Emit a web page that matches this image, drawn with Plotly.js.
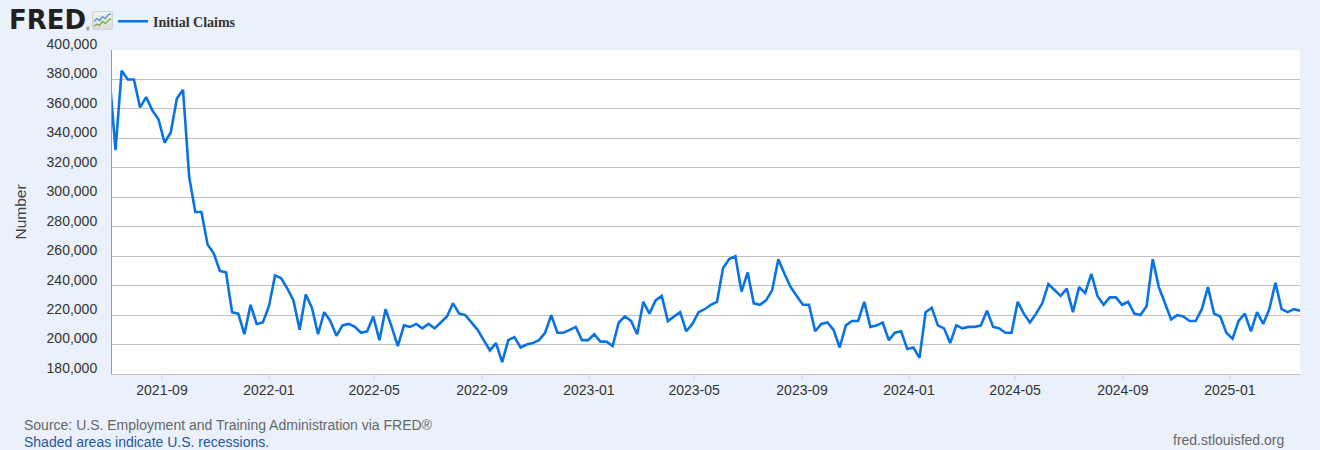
<!DOCTYPE html>
<html>
<head>
<meta charset="utf-8">
<script src="https://cdn.plot.ly/plotly-3.0.1.min.js"></script>
<style>html,body{margin:0;padding:0;background:#eaf1fa;}#chart{width:1320px;height:450px;}</style>
</head>
<body>
<div id="chart"></div>
<script>
// Weekly initial claims, week ending Saturday, first week 2021-07-03
const seriesName = 'Initial Claims';
const firstWeek = '2021-07-03';
const claims = [
  383000,
  332000, 386000, 380000, 380000, 361000, 368000, 359000, 353000, 337000, 344000,
  367000, 373000, 314000, 290000, 290000, 268000, 262000, 250000, 249000, 222000,
  221000, 207000, 227000, 214000, 215000, 226000, 247000, 245000, 238000, 230000,
  210000, 234000, 225000, 207000, 222000, 216000, 206000, 213000, 214000, 212000,
  208000, 209000, 219000, 203000, 224000, 212000, 199000, 213000, 212000, 214000,
  211000, 214000, 211000, 215000, 219000, 228000, 221000, 220000, 215000, 210000,
  203000, 196000, 201000, 188000, 203000, 205000, 198000, 200000, 201000, 203000,
  208000, 220000, 208000, 208000, 210000, 212000, 203000, 203000, 207000, 202000,
  202000, 199000, 215000, 219000, 216000, 207000, 229000, 221000, 230000, 233000,
  216000, 219000, 222000, 209000, 214000, 222000, 224000, 227000, 229000, 252000,
  258000, 260000, 236000, 249000, 228000, 227000, 230000, 237000, 258000, 248000,
  239000, 233000, 227000, 227000, 209000, 214000, 215000, 210000, 198000, 213000,
  216000, 216000, 229000, 212000, 213000, 215000, 203000, 208000, 209000, 197000,
  198000, 191000, 222000, 225000, 213000, 211000, 201000, 213000, 211000, 212000,
  212000, 213000, 223000, 212000, 211000, 208000, 208000, 229000, 221000, 215000,
  221000, 228000, 241000, 237000, 233000, 238000, 222000, 239000, 235000, 248000,
  233000, 227000, 232000, 232000, 227000, 229000, 221000, 220000, 226000, 258000,
  239000, 228000, 217000, 220000, 219000, 216000, 216000, 224000, 239000, 221000,
  219000, 208000, 204000, 216000, 221000, 209000, 222000, 214000, 224000, 242000,
  224000, 222000, 224000, 223000
];
const xRange = ['2021-07-06', '2025-03-22'];
const xTickVals = ['2021-09-01','2022-01-01','2022-05-01','2022-09-01','2023-01-01','2023-05-01',
                   '2023-09-01','2024-01-01','2024-05-01','2024-09-01','2025-01-01'];
const xTickText = ['2021-09','2022-01','2022-05','2022-09','2023-01','2023-05',
                   '2023-09','2024-01','2024-05','2024-09','2025-01'];
const yRange = [180000, 400000];
const yStep = 20000;
const yTitle = 'Number';
const sourceText = 'Source: U.S. Employment and Training Administration via FRED®';
const recessionText = 'Shaded areas indicate U.S. recessions.';
const siteText = 'fred.stlouisfed.org';

// weekly dates (index axis)
const weeks = [];
const t0 = Date.parse(firstWeek + 'T00:00:00Z');
for (let i = 0; i < claims.length; i++) {
  weeks.push(new Date(t0 + i * 7 * 86400000).toISOString().slice(0, 10));
}

const W = 1320, H = 450, M = {l: 112, r: 20, t: 50, b: 76, autoexpand: false};
const pw = W - M.l - M.r, ph = H - M.t - M.b;
const px = x => (x - M.l) / pw;
const py = y => (H - M.b - y) / ph;

const icon = "<svg xmlns='http://www.w3.org/2000/svg' width='22' height='20' viewBox='0 0 22 20'>" +
  "<defs><linearGradient id='g' x1='0' y1='0' x2='0' y2='1'><stop offset='0' stop-color='#f2f2f2'/><stop offset='1' stop-color='#d9dadb'/></linearGradient></defs>" +
  "<rect x='0.5' y='0.5' width='21' height='19' rx='2' fill='url(#g)' stroke='#cfd0d2'/>" +
  "<polyline points='2,11 5,8 8,10 11,6 14,8 17,4 20,3' fill='none' stroke='#5b93cf' stroke-width='1.4'/>" +
  "<polyline points='2,16 5,14 8,15 11,11 14,13 17,10 20,8' fill='none' stroke='#7fae3e' stroke-width='1.4'/></svg>";

const trace = {
  type: 'scatter', mode: 'lines', x: weeks, y: claims, name: seriesName,
  line: {color: '#0a73e4', width: 2.6}, hoverinfo: 'x+y'
};

// small tick marks under the x axis, one per labelled tick
const tickShapes = xTickVals.map(v => ({
  type: 'line', xref: 'x', yref: 'paper', x0: v, x1: v, y0: 0, y1: -6 / ph,
  line: {color: '#ccd6eb', width: 1}, layer: 'above'
}));

const layout = {
  width: W, height: H,
  margin: M,
  paper_bgcolor: '#eaf1fa', plot_bgcolor: '#ffffff',
  font: {family: 'Liberation Sans, Arial, sans-serif', size: 14, color: '#333333'},
  showlegend: true,
  legend: {
    orientation: 'h', x: px(113), xanchor: 'left', y: py(21.7), yanchor: 'middle',
    bgcolor: 'rgba(0,0,0,0)', borderwidth: 0,
    font: {family: 'Liberation Serif, Times New Roman, serif', size: 14, color: '#333333', weight: 'bold'}
  },
  xaxis: {
    type: 'date', range: xRange, tickvals: xTickVals, ticktext: xTickText,
    ticks: '', ticklabelstandoff: 3, showgrid: false, zeroline: false,
    showline: true, linecolor: '#c0c0c0', linewidth: 1,
    tickfont: {size: 14, color: '#333333'}
  },
  yaxis: {
    range: yRange, dtick: yStep, tick0: yRange[0], tickformat: ',d',
    ticks: 'outside', ticklen: 11, tickcolor: 'rgba(0,0,0,0)',
    ticklabelposition: 'outside', ticklabelshift: -6,
    showgrid: true, gridcolor: '#c2c2c2', gridwidth: 1,
    zeroline: false, showline: true, linecolor: '#9a9a9a', linewidth: 1,
    tickfont: {size: 14, color: '#333333'},
    title: {text: yTitle, standoff: 16, font: {size: 15.5, color: '#444444'}}
  },
  shapes: tickShapes,
  images: [{
    source: 'data:image/svg+xml;charset=utf-8,' + encodeURIComponent(icon),
    xref: 'paper', yref: 'paper', x: px(92), y: py(11), sizex: 21 / pw, sizey: 19 / ph,
    xanchor: 'left', yanchor: 'top', sizing: 'stretch', layer: 'above'
  }],
  annotations: [
    {text: 'FRED', xref: 'paper', yref: 'paper', x: px(7), y: py(20.5), xanchor: 'left', yanchor: 'middle',
     height: 22, showarrow: false,
     font: {family: 'DejaVu Sans, Arial Black, sans-serif', size: 26, color: '#231f20', weight: 'bold'}},
    {text: '®', xref: 'paper', yref: 'paper', x: px(84), y: py(28.5), xanchor: 'left', yanchor: 'middle',
     height: 5, showarrow: false, font: {size: 5, color: '#231f20'}},
    {text: sourceText, xref: 'paper', yref: 'paper', x: px(21.5), y: py(425), xanchor: 'left', yanchor: 'middle',
     showarrow: false, font: {size: 14, color: '#666666'}},
    {text: recessionText, xref: 'paper', yref: 'paper', x: px(21.5), y: py(441.5), xanchor: 'left', yanchor: 'middle',
     showarrow: false, font: {size: 14, color: '#24589a'}},
    {text: siteText, xref: 'paper', yref: 'paper', x: px(1285.5), y: py(440), xanchor: 'right', yanchor: 'middle',
     showarrow: false, font: {size: 14, color: '#666666'}}
  ]
};

Plotly.newPlot('chart', [trace], layout, {displayModeBar: false, staticPlot: true});
</script>
</body>
</html>
